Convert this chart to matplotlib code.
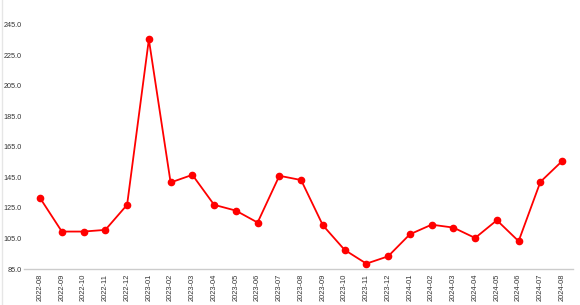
import matplotlib
matplotlib.use("Agg")
import matplotlib.pyplot as plt

meses = ["2022-08", "2022-09", "2022-10", "2022-11", "2022-12",
         "2023-01", "2023-02", "2023-03", "2023-04", "2023-05", "2023-06",
         "2023-07", "2023-08", "2023-09", "2023-10", "2023-11", "2023-12",
         "2024-01", "2024-02", "2024-03", "2024-04", "2024-05", "2024-06",
         "2024-07", "2024-08"]
valores = [131.4, 109.5, 109.5, 110.6, 127.0,
           235.2, 141.6, 146.6, 127.0, 123.2, 115.4,
           146.0, 143.2, 113.6, 97.5, 88.5, 93.3,
           107.7, 114.0, 112.1, 105.3, 116.9, 103.2,
           142.0, 155.6]
ticks_y = [85, 105, 125, 145, 165, 185, 205, 225, 245]

plt.rcParams['font.family'] = ['Liberation Sans', 'DejaVu Sans']

fig = plt.figure(figsize=(5.8, 3.05), dpi=100)
ax = fig.add_axes([24 / 580, 36 / 305, 549 / 580, 269 / 305])

x = list(range(len(meses)))
ax.plot(x, valores, color="#ff0000", linewidth=1.3, marker="o", markersize=4.5)

ax.set_xlim(-0.74, 24.5)
ax.set_ylim(85, 261)
ax.set_xticks(x)
ax.set_xticklabels(meses, rotation=90, fontsize=5.4, color="#333333")
ax.set_yticks(ticks_y)
ax.set_yticklabels([f"{v:.1f}" for v in ticks_y], fontsize=5.2, color="#333333")
ax.tick_params(axis="x", length=0, pad=3.5)
ax.tick_params(axis="y", length=0, pad=1.5)

for lado in ["top", "right", "left"]:
    ax.spines[lado].set_visible(False)
ax.spines["bottom"].set_color("#cccccc")
ax.spines["bottom"].set_linewidth(1)

# borde izquierdo tenue
fig.add_artist(plt.Line2D([1.5 / 580, 1.5 / 580], [0, 1], color="#e6e6e6", linewidth=1))

fig.savefig("out.png", dpi=100)
